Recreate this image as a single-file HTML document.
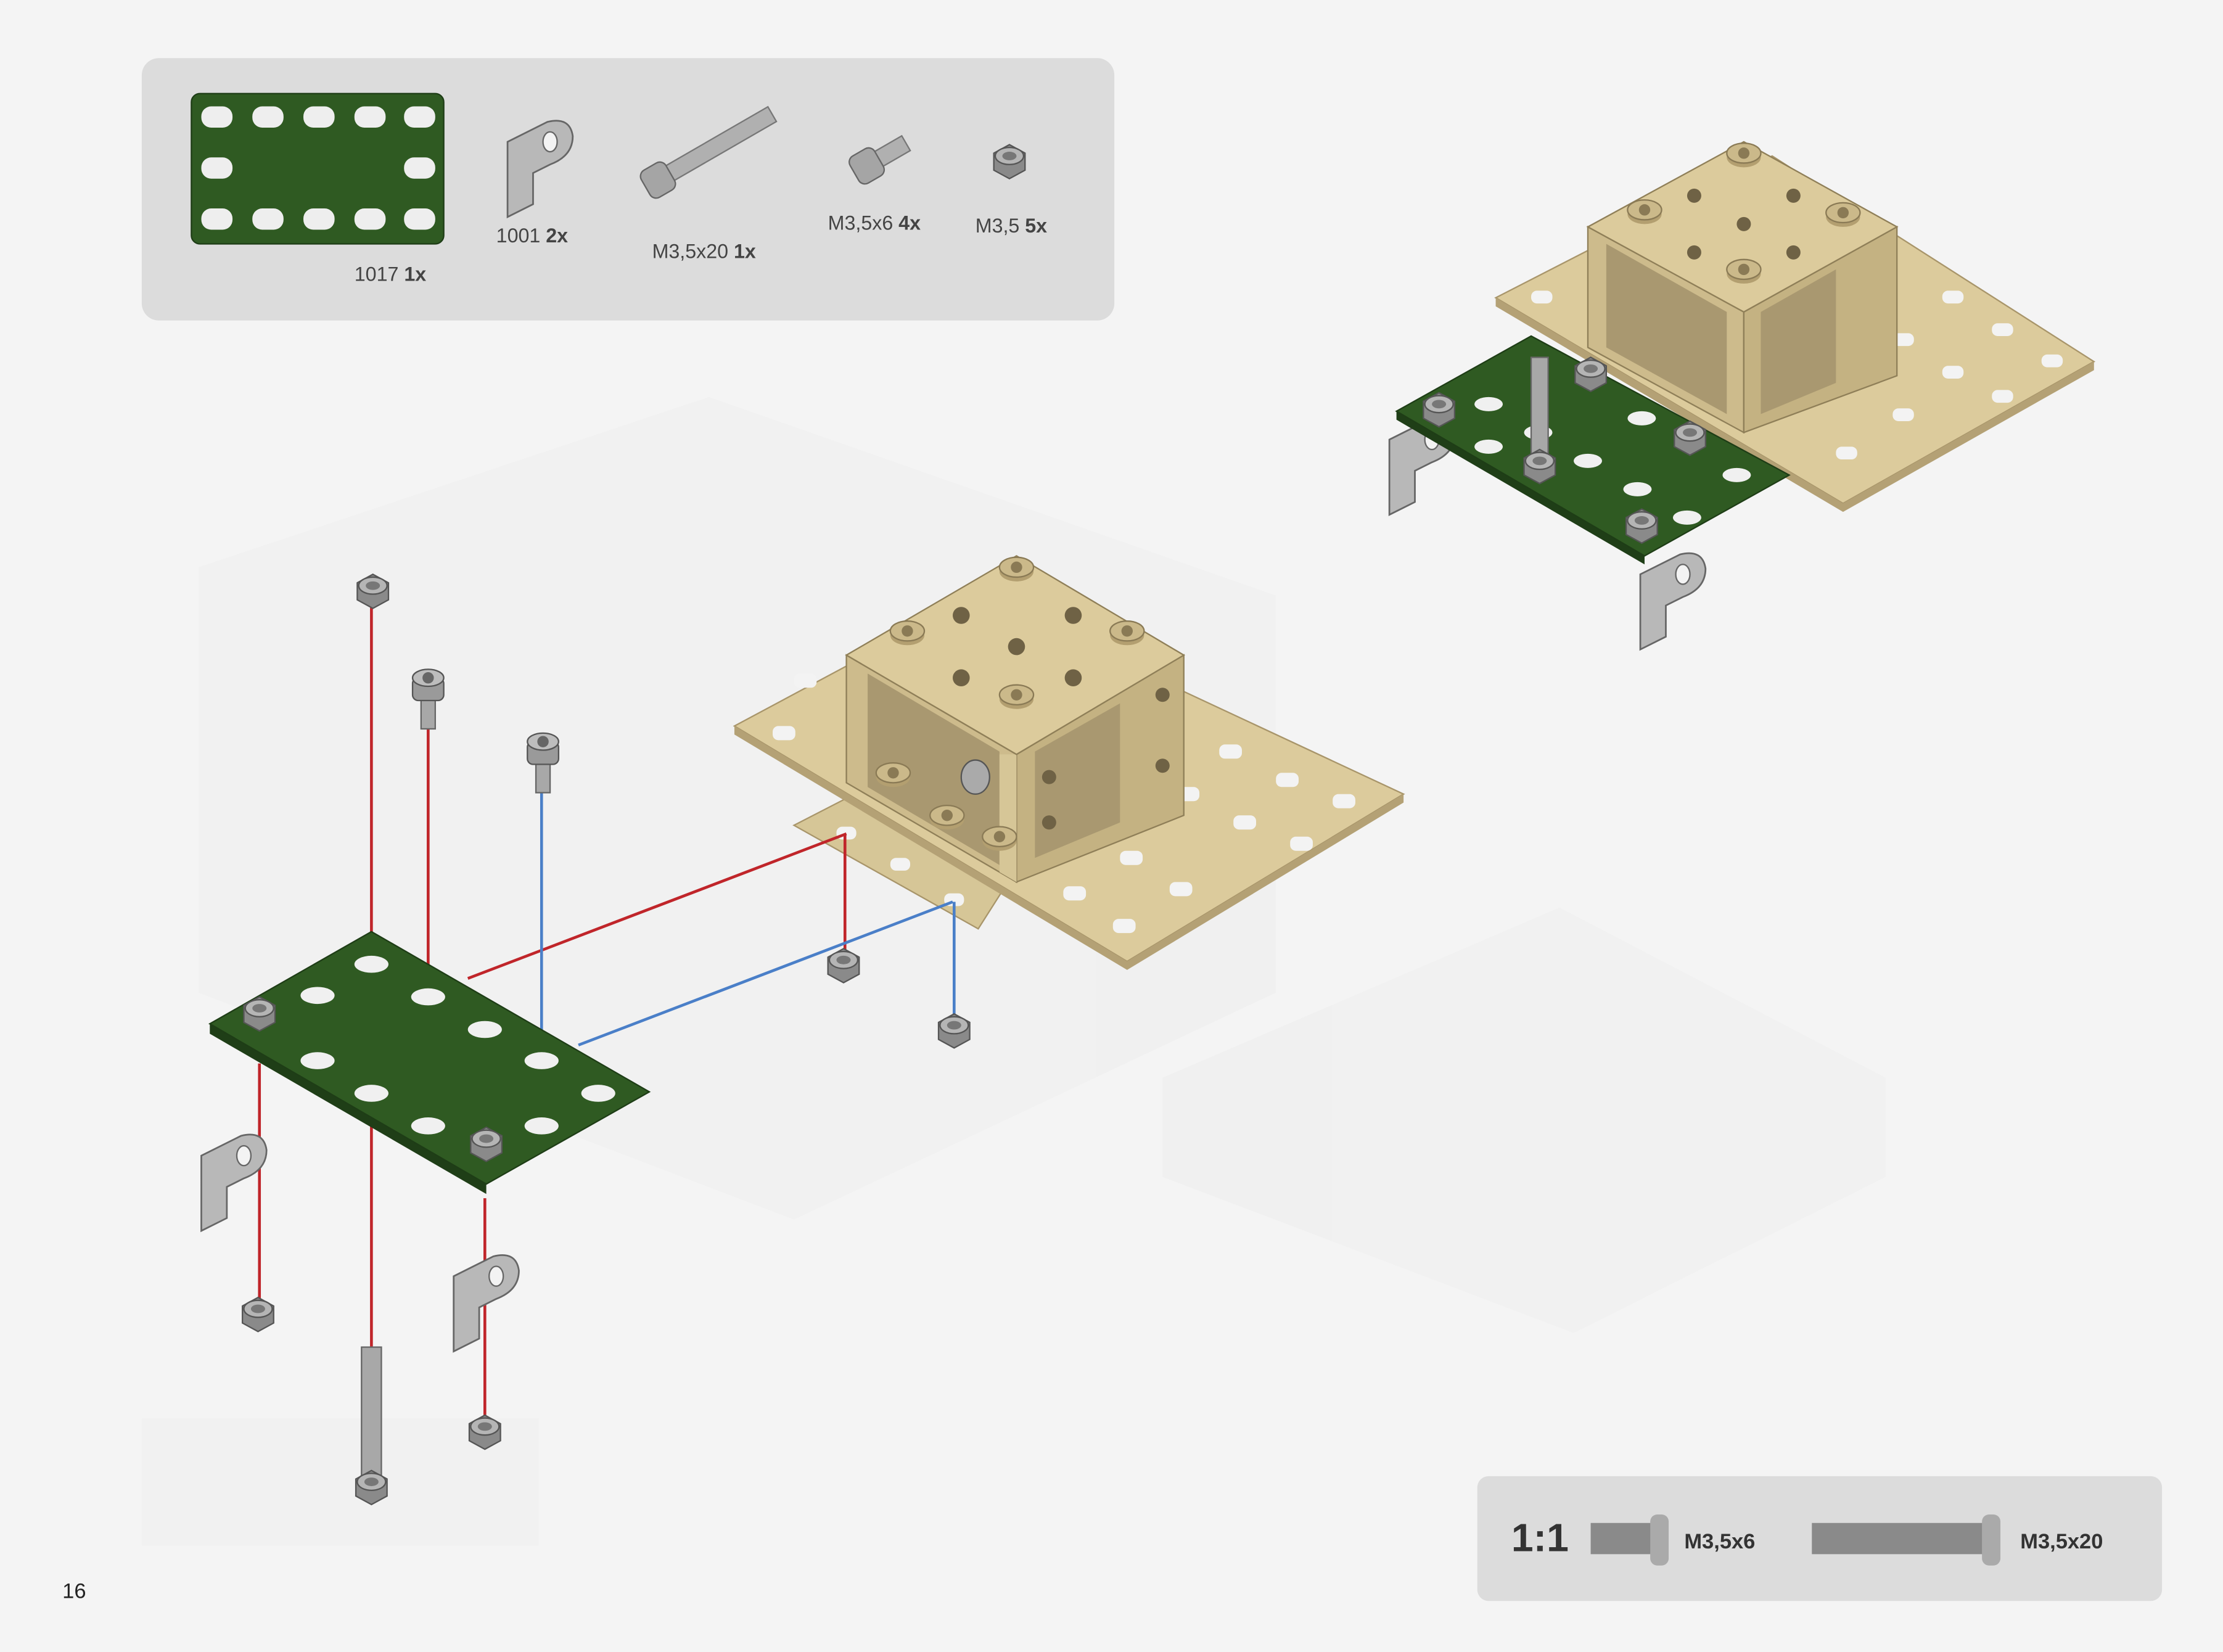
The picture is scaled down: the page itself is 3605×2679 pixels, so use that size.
<!DOCTYPE html>
<html><head><meta charset="utf-8"><style>
html,body{margin:0;padding:0;background:#f4f4f4;}
svg{display:block;}
text{font-family:"Liberation Sans",sans-serif;}
</style></head><body>
<svg width="3605" height="2679" viewBox="0 0 1568 1165" preserveAspectRatio="none" xmlns="http://www.w3.org/2000/svg">
<defs>
<g id="nut"><polygon points="-11,-7 0,-13 11,-7 11,5 0,11 -11,5" fill="#8a8a8a" stroke="#555" stroke-width="1"/><ellipse cx="0" cy="-5" rx="10" ry="6" fill="#b5b5b5" stroke="#555" stroke-width="1"/><ellipse cx="0" cy="-5" rx="5" ry="3" fill="#777"/></g>
<g id="bolt"><rect x="-5" y="0" width="10" height="22" fill="#a8a8a8" stroke="#666"/><rect x="-11" y="-14" width="22" height="16" rx="4" fill="#9a9a9a" stroke="#555"/><ellipse cx="0" cy="-14" rx="11" ry="6" fill="#bdbdbd" stroke="#555"/><circle cx="0" cy="-14" r="4" fill="#666"/></g>
<g id="br"><path d="M0,0 l28,-14 q16,-4 18,10 q0,14 -16,20 l-12,6 v22 l-18,9 z" fill="#b8b8b8" stroke="#666" stroke-width="1.2"/><ellipse cx="30" cy="0" rx="5" ry="7" fill="#f3f3f3" stroke="#666"/></g>
<g id="head"><ellipse cx="0" cy="3" rx="12" ry="7" fill="#b39f70"/><ellipse cx="0" cy="0" rx="12" ry="7" fill="#cbb98a" stroke="#8a7a55" stroke-width="1"/><circle cx="0" cy="0" r="4" fill="#8a7a55"/></g>
</defs>
<rect width="1568" height="1165" fill="#f4f4f4"/>
<g fill="#efefef" opacity="0.7">
<polygon points="140,400 500,280 900,420 900,700 560,860 140,700"/>
<polygon points="820,760 1100,640 1330,760 1330,830 1110,940 820,830"/>
<polygon points="100,1000 380,1000 380,1090 100,1090"/>
</g>
<rect x="100" y="41" width="686" height="185" rx="12" fill="#dcdcdc"/>
<rect x="135" y="66" width="178" height="106" rx="6" fill="#2f5a22" stroke="#1e3d16"/>
<g fill="#eeeeee">
<rect x="142" y="75" width="22" height="15" rx="7"/><rect x="178" y="75" width="22" height="15" rx="7"/><rect x="214" y="75" width="22" height="15" rx="7"/><rect x="250" y="75" width="22" height="15" rx="7"/><rect x="285" y="75" width="22" height="15" rx="7"/>
<rect x="142" y="111" width="22" height="15" rx="7"/><rect x="285" y="111" width="22" height="15" rx="7"/>
<rect x="142" y="147" width="22" height="15" rx="7"/><rect x="178" y="147" width="22" height="15" rx="7"/><rect x="214" y="147" width="22" height="15" rx="7"/><rect x="250" y="147" width="22" height="15" rx="7"/><rect x="285" y="147" width="22" height="15" rx="7"/>
</g>
<text x="250" y="198" font-size="14" fill="#444">1017 <tspan font-weight="bold">1x</tspan></text>
<use href="#br" x="358" y="100"/>
<text x="350" y="171" font-size="14" fill="#444">1001 <tspan font-weight="bold">2x</tspan></text>
<g transform="translate(497,108) rotate(-30)"><rect x="-30" y="-6" width="85" height="12" fill="#b0b0b0" stroke="#777"/><rect x="-48" y="-11" width="20" height="22" rx="5" fill="#a5a5a5" stroke="#666"/></g>
<text x="460" y="182" font-size="14" fill="#444">M3,5x20 <tspan font-weight="bold">1x</tspan></text>
<g transform="translate(620,112) rotate(-30)"><rect x="-2" y="-6" width="24" height="12" fill="#b0b0b0" stroke="#777"/><rect x="-20" y="-11" width="20" height="22" rx="5" fill="#a5a5a5" stroke="#666"/></g>
<text x="584" y="162" font-size="14" fill="#444">M3,5x6 <tspan font-weight="bold">4x</tspan></text>
<use href="#nut" x="712" y="115"/>
<text x="688" y="164" font-size="14" fill="#444">M3,5 <tspan font-weight="bold">5x</tspan></text>

<polygon points="560,582 700,510 760,545 690,655" fill="#d6c697" stroke="#a8956a"/>
<polygon points="518,512 690,420 990,560 795,678" fill="#dccb9c" stroke="#a8956a"/>
<polygon points="518,512 795,678 990,560 990,566 795,684 518,518" fill="#b4a175"/>
<g fill="#f3f3f3">
<rect x="860" y="525" width="16" height="10" rx="4"/><rect x="900" y="545" width="16" height="10" rx="4"/><rect x="940" y="560" width="16" height="10" rx="4"/>
<rect x="830" y="555" width="16" height="10" rx="4"/><rect x="870" y="575" width="16" height="10" rx="4"/><rect x="910" y="590" width="16" height="10" rx="4"/>
<rect x="790" y="600" width="16" height="10" rx="4"/><rect x="825" y="622" width="16" height="10" rx="4"/><rect x="785" y="648" width="16" height="10" rx="4"/>
<rect x="750" y="625" width="16" height="10" rx="4"/><rect x="545" y="512" width="16" height="10" rx="4"/><rect x="590" y="583" width="14" height="9" rx="4"/>
<rect x="628" y="605" width="14" height="9" rx="4"/><rect x="666" y="630" width="14" height="9" rx="4"/><rect x="560" y="475" width="16" height="10" rx="4"/>
</g>
<polygon points="597,462 717,532 717,622 597,552" fill="#cdbb8c" stroke="#8f7f58"/>
<polygon points="717,532 835,462 835,575 717,622" fill="#c4b282" stroke="#8f7f58"/>
<polygon points="612,475 705,530 705,610 612,555" fill="#a99870"/>
<polygon points="730,530 790,496 790,580 730,605" fill="#a99870"/>
<polygon points="705,532 717,532 717,622 705,615" fill="#d6c697"/>
<polygon points="597,462 717,392 835,462 717,532" fill="#dccb9c" stroke="#8f7f58"/>
<use href="#head" x="717" y="400"/><use href="#head" x="640" y="445"/><use href="#head" x="795" y="445"/><use href="#head" x="717" y="490"/>
<circle cx="717" cy="456" r="6" fill="#6f6245"/><circle cx="678" cy="434" r="6" fill="#6f6245"/><circle cx="757" cy="434" r="6" fill="#6f6245"/><circle cx="678" cy="478" r="6" fill="#6f6245"/><circle cx="757" cy="478" r="6" fill="#6f6245"/>
<use href="#head" x="630" y="545"/><use href="#head" x="668" y="575"/><use href="#head" x="705" y="590"/>
<ellipse cx="688" cy="548" rx="10" ry="12" fill="#aaa" stroke="#555"/>
<circle cx="740" cy="548" r="5" fill="#6f6245"/><circle cx="740" cy="580" r="5" fill="#6f6245"/><circle cx="820" cy="490" r="5" fill="#6f6245"/><circle cx="820" cy="540" r="5" fill="#6f6245"/>

<g stroke="#c0252a" stroke-width="2" fill="none">
<line x1="262" y1="420" x2="262" y2="1045"/>
<line x1="302" y1="505" x2="302" y2="705"/>
<line x1="330" y1="690" x2="597" y2="588"/>
<line x1="596" y1="588" x2="596" y2="670"/>
<line x1="183" y1="750" x2="183" y2="918"/>
<line x1="342" y1="845" x2="342" y2="1000"/>
</g>
<g stroke="#4a7fc8" stroke-width="2" fill="none">
<line x1="382" y1="555" x2="382" y2="745"/>
<line x1="408" y1="737" x2="672" y2="636"/>
<line x1="673" y1="636" x2="673" y2="718"/>
</g>

<polygon points="148,722 262,657 458,770 343,835 343,842 148,729" fill="#1f3e17"/>
<polygon points="148,722 262,657 458,770 343,835" fill="#2f5a22" stroke="#1e3d16"/>
<g fill="#f0f0f0">
<ellipse cx="262" cy="680" rx="12" ry="6"/><ellipse cx="302" cy="703" rx="12" ry="6"/><ellipse cx="342" cy="726" rx="12" ry="6"/><ellipse cx="382" cy="748" rx="12" ry="6"/><ellipse cx="422" cy="771" rx="12" ry="6"/>
<ellipse cx="224" cy="702" rx="12" ry="6"/><ellipse cx="382" cy="794" rx="12" ry="6"/>
<ellipse cx="224" cy="748" rx="12" ry="6"/><ellipse cx="262" cy="771" rx="12" ry="6"/><ellipse cx="302" cy="794" rx="12" ry="6"/>
</g>
<use href="#nut" x="183" y="716"/><use href="#nut" x="343" y="808"/>

<use href="#nut" x="263" y="418"/>
<use href="#bolt" x="302" y="492"/>
<use href="#bolt" x="383" y="537"/>
<use href="#nut" x="595" y="682"/>
<use href="#nut" x="673" y="728"/>
<use href="#nut" x="182" y="928"/>
<use href="#nut" x="342" y="1011"/>
<rect x="255" y="950" width="14" height="92" fill="#a8a8a8" stroke="#666"/>
<use href="#nut" x="262" y="1050"/>
<use href="#br" x="142" y="815"/>
<use href="#br" x="320" y="900"/>

<polygon points="1055,210 1250,110 1477,255 1300,355" fill="#dccb9c" stroke="#a8956a"/>
<polygon points="1055,210 1300,355 1477,255 1477,261 1300,361 1055,216" fill="#b4a175"/>
<g fill="#f3f3f3">
<rect x="1370" y="205" width="15" height="9" rx="4"/><rect x="1405" y="228" width="15" height="9" rx="4"/><rect x="1440" y="250" width="15" height="9" rx="4"/>
<rect x="1335" y="235" width="15" height="9" rx="4"/><rect x="1370" y="258" width="15" height="9" rx="4"/><rect x="1405" y="275" width="15" height="9" rx="4"/>
<rect x="1300" y="265" width="15" height="9" rx="4"/><rect x="1335" y="288" width="15" height="9" rx="4"/><rect x="1295" y="315" width="15" height="9" rx="4"/><rect x="1080" y="205" width="15" height="9" rx="4"/>
</g>
<polygon points="1120,160 1230,220 1230,305 1120,245" fill="#cdbb8c" stroke="#8f7f58"/>
<polygon points="1230,220 1338,160 1338,265 1230,305" fill="#c4b282" stroke="#8f7f58"/>
<polygon points="1133,172 1218,220 1218,292 1133,245" fill="#a99870"/>
<polygon points="1242,220 1295,190 1295,270 1242,292" fill="#a99870"/>
<polygon points="1120,160 1230,100 1338,160 1230,220" fill="#dccb9c" stroke="#8f7f58"/>
<use href="#head" x="1230" y="108"/><use href="#head" x="1160" y="148"/><use href="#head" x="1300" y="150"/><use href="#head" x="1230" y="190"/>
<circle cx="1230" cy="158" r="5" fill="#6f6245"/><circle cx="1195" cy="138" r="5" fill="#6f6245"/><circle cx="1265" cy="138" r="5" fill="#6f6245"/><circle cx="1195" cy="178" r="5" fill="#6f6245"/><circle cx="1265" cy="178" r="5" fill="#6f6245"/>
<use href="#br" x="980" y="310"/>
<use href="#br" x="1157" y="405"/>
<polygon points="985,290 1080,237 1262,335 1160,392 1160,398 985,296" fill="#1f3e17"/>
<polygon points="985,290 1080,237 1262,335 1160,392" fill="#2f5a22" stroke="#1e3d16"/>
<g fill="#f0f0f0">
<ellipse cx="1050" cy="285" rx="10" ry="5"/><ellipse cx="1085" cy="305" rx="10" ry="5"/><ellipse cx="1120" cy="325" rx="10" ry="5"/><ellipse cx="1155" cy="345" rx="10" ry="5"/><ellipse cx="1190" cy="365" rx="10" ry="5"/>
<ellipse cx="1050" cy="315" rx="10" ry="5"/><ellipse cx="1225" cy="335" rx="10" ry="5"/><ellipse cx="1158" cy="295" rx="10" ry="5"/>
</g>
<use href="#nut" x="1015" y="290"/><use href="#nut" x="1122" y="265"/><use href="#nut" x="1192" y="310"/><use href="#nut" x="1158" y="372"/>
<rect x="1080" y="252" width="12" height="72" fill="#a8a8a8" stroke="#666"/>
<use href="#nut" x="1086" y="330"/>

<rect x="1042" y="1041" width="483" height="88" rx="8" fill="#dcdcdc"/>
<text x="1066" y="1094" font-size="28" font-weight="bold" fill="#333">1:1</text>
<rect x="1122" y="1074" width="44" height="22" fill="#8a8a8a"/>
<rect x="1164" y="1068" width="13" height="36" rx="5" fill="#aaa"/>
<text x="1188" y="1092" font-size="15" font-weight="bold" fill="#333">M3,5x6</text>
<rect x="1278" y="1074" width="124" height="22" fill="#8a8a8a"/>
<rect x="1398" y="1068" width="13" height="36" rx="5" fill="#aaa"/>
<text x="1425" y="1092" font-size="15" font-weight="bold" fill="#333">M3,5x20</text>
<text x="44" y="1127" font-size="15" fill="#222">16</text>
</svg>
</body></html>
